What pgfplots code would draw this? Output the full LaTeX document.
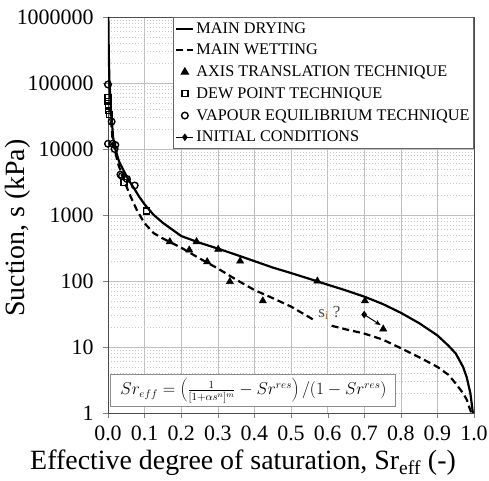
\documentclass[border=0pt]{standalone}
\usepackage{pgfplots}
\pgfplotsset{compat=1.18}
\usepackage{fontspec}
\setmainfont{Liberation Serif}
\usetikzlibrary{arrows.meta}

\begin{document}
\begin{tikzpicture}
\begin{axis}[
  at={(0,0)}, anchor=south west,
  scale only axis, width=366bp, height=396bp,
  xmin=0, xmax=1, ymin=1, ymax=1000000, ymode=log,
  xtick={0,0.1,0.2,0.3,0.4,0.5,0.6,0.7,0.8,0.9,1},
  xticklabels={0.0,0.1,0.2,0.3,0.4,0.5,0.6,0.7,0.8,0.9,1.0},
  ytick={1,10,100,1000,10000,100000,1000000},
  yticklabels={1,10,100,1000,10000,100000,1000000},
  /pgf/number format/assume math mode=true,
  tick label style={font=\fontsize{22}{24}\selectfont},
  xticklabel style={yshift=-4bp},
  yticklabel style={xshift=-6bp},
  tick align=outside, tick pos=left,
  major tick length=5bp, minor tick length=0pt,
  axis line style={black!70, line width=0.9pt},
  grid=both,
  major grid style={black!25, line width=0.6pt},
  minor grid style={black!22, dash pattern=on 1.5bp off 1.5bp, line width=0.6pt},
  xlabel={Effective degree of saturation, Sr\textsubscript{eff} (-)},
  ylabel={Suction, s (kPa)},
  label style={font=\fontsize{28}{30}\selectfont},
  xlabel style={at={(axis description cs:0.369,-0.126)}, anchor=center},
  ylabel style={at={(axis description cs:-0.246,0.467)}, anchor=center},
  legend style={at={(rel axis cs:1,1)}, anchor=north east,
    font=\fontsize{16.3}{18}\selectfont, draw=black!60, line width=1pt,
    inner xsep=2bp, inner ysep=3bp, row sep=5.5bp, cells={anchor=west}},
  legend cell align=left,
]
% main drying
\addplot[black, line width=2.2pt] coordinates {
(0.001,1000000) (0.002,300000) (0.004,100000) (0.008,40000) (0.014,15000)
(0.02,10000) (0.03,6500) (0.042,4800) (0.055,3500) (0.07,2600) (0.085,1900)
(0.1,1450) (0.125,1000) (0.15,760) (0.2,480) (0.25,380) (0.3,310) (0.35,250)
(0.4,200) (0.45,160) (0.5,132) (0.55,108) (0.6,88) (0.65,72) (0.7,58)
(0.75,45) (0.8,33) (0.85,23) (0.9,15) (0.93,10.5) (0.95,8) (0.97,5)
(0.98,3.5) (0.99,2) (0.997,1)
};
\addlegendentry{MAIN DRYING}
% main wetting
\addplot[black, line width=2.2pt, dash pattern=on 7bp off 4bp] coordinates {
(0.006,40000) (0.012,15000) (0.02,9000) (0.027,6100) (0.04,3800) (0.06,2000)
(0.08,1150) (0.1,750) (0.125,530) (0.15,440) (0.2,320) (0.25,220) (0.3,155)
(0.35,105) (0.4,73) (0.45,55) (0.5,41) (0.561,26)
};
\addlegendentry{MAIN WETTING}
\addplot[black, line width=2.2pt, dash pattern=on 7bp off 4bp, forget plot] coordinates {
(0.611,21) (0.65,18.5) (0.7,16) (0.75,13) (0.8,9.6) (0.85,7) (0.9,5)
(0.93,3.8) (0.95,2.8) (0.97,2) (0.98,1.6) (0.99,1.1) (0.993,1)
};
% axis translation
\addplot[only marks, mark=triangle*, mark size=4.2bp, black] coordinates {
(0.169,394) (0.222,295) (0.242,394) (0.271,196) (0.301,302) (0.361,200)
(0.333,98) (0.423,50) (0.572,100) (0.702,50) (0.752,18.7)
};
\addlegendentry{AXIS TRANSLATION TECHNIQUE}
% dew point
\addplot[only marks, mark=square, mark size=3bp, black, line width=1.3pt] coordinates {
(0.000,60000) (0.000,52000) (0.001,45000) (0.002,38000) (0.004,33000)
(0.044,3100) (0.105,1150)
};
\addlegendentry{DEW POINT TECHNIQUE}
% vapour equilibrium
\addplot[only marks, mark=o, mark size=3.3bp, black, line width=1.4pt] coordinates {
(0.000,95000) (0.010,26000) (0.000,12000) (0.012,12000) (0.020,11500)
(0.018,10000) (0.034,4100) (0.038,3900) (0.052,3500) (0.073,2800)
};
\addlegendentry{VAPOUR EQUILIBRIUM TECHNIQUE}
% initial conditions
\addplot[black, line width=1pt, -{Stealth[length=6bp,width=5bp]}, mark=diamond*, mark size=3bp, mark indices={1},
  legend image code/.code={\draw[-,line width=1pt] (0cm,0cm) -- (0.6cm,0cm);
    \fill (0.3cm,0cm) +(0,3bp) -- +(2.2bp,0) -- +(0,-3bp) -- +(-2.2bp,0) -- cycle;}]
  coordinates {(0.70,31) (0.745,21.5)};
\addlegendentry{INITIAL CONDITIONS}

\node[font=\fontsize{17}{19}\selectfont, black!70] at (axis cs:0.605,33) {s\textsubscript{\color{orange!80!black}i} ?};
\node[draw=black!45, fill=white, line width=1pt, minimum width=285bp, minimum height=32bp,
  inner sep=2bp, font=\fontsize{16}{18}\selectfont]
  at (rel axis cs:0.3975,0.0556)
  {$Sr_{eff} = \left(\frac{1}{[1+\alpha s^{n}]^{m}} - Sr^{res}\right)/(1-Sr^{res})$};
\end{axis}
\pgfresetboundingbox
\path[use as bounding box] (-108bp,-68bp) rectangle (381bp,413bp);
\end{tikzpicture}
\end{document}
